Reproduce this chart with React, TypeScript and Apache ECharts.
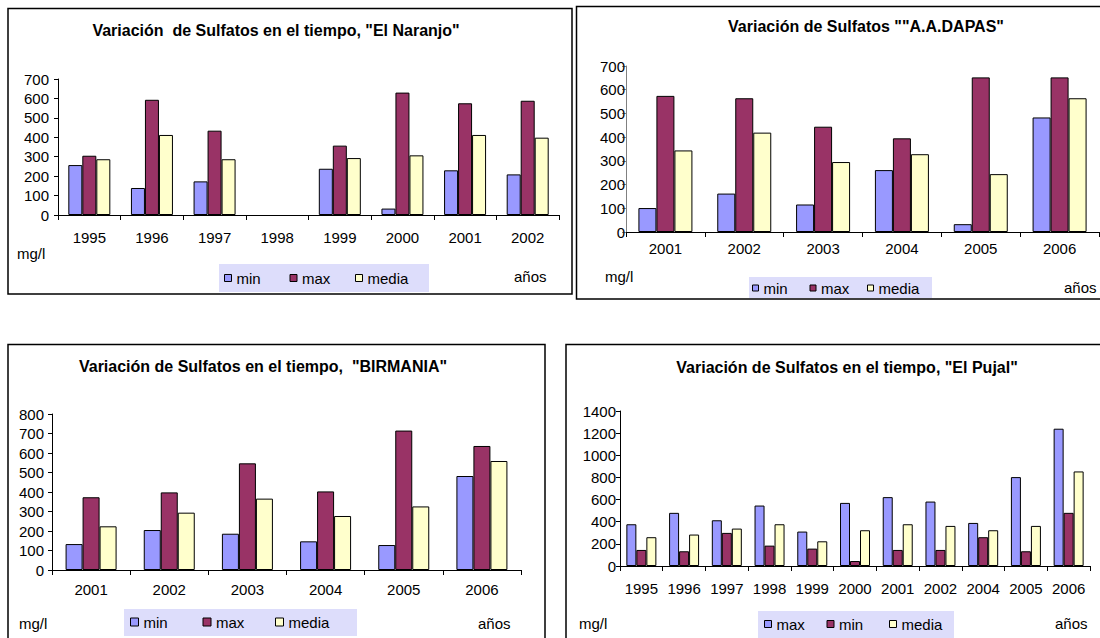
import React, { useEffect, useRef } from "react";
import * as echarts from "echarts";

// ---------- data ----------
const naranjoYears = ["1995", "1996", "1997", "1998", "1999", "2000", "2001", "2002"];
const naranjoMin = [257, 139, 173, null, 238, 33, 230, 209];
const naranjoMax = [305, 593, 434, null, 357, 630, 575, 588];
const naranjoMedia = [287, 412, 287, null, 293, 307, 412, 398];

const dapasYears = ["2001", "2002", "2003", "2004", "2005", "2006"];
const dapasMin = [101, 162, 116, 261, 33, 483];
const dapasMax = [574, 564, 444, 395, 652, 652];
const dapasMedia = [344, 419, 295, 328, 244, 564];

const birmaniaYears = ["2001", "2002", "2003", "2004", "2005", "2006"];
const birmaniaMin = [133, 205, 186, 147, 128, 482];
const birmaniaMax = [373, 398, 547, 403, 715, 636];
const birmaniaMedia = [224, 294, 366, 277, 326, 559];

const pujalYears = ["1995", "1996", "1997", "1998", "1999", "2000", "2001", "2002", "2004", "2005", "2006"];
const pujalMax = [377, 480, 413, 546, 311, 570, 622, 582, 389, 803, 1240];
const pujalMin = [145, 133, 299, 184, 157, 45, 145, 145, 260, 133, 480];
const pujalMedia = [260, 284, 338, 377, 223, 323, 377, 362, 323, 362, 854];

const titles = [
  'Variación  de Sulfatos en el tiempo, "El Naranjo"',
  'Variación de Sulfatos ""A.A.DAPAS"',
  'Variación de Sulfatos en el tiempo,  "BIRMANIA"',
  'Variación de Sulfatos en el tiempo, "El Pujal"',
];

const BLUE = "#9999FF";
const MAROON = "#993366";
const CREAM = "#FFFFCC";
const LEGEND_BG = "#DDDDFB";
const FONT = "'Liberation Sans', Arial, sans-serif";

type ChartDef = {
  cats: string[];
  series: { name: string; data: (number | null)[]; color: string }[];
  grid: { left: number; top: number; width: number; height: number };
  yMax: number;
  yInterval: number;
  barWidth: number;
  xMargin: number;
  yMargin: number;
  yAxisColor: string;
  title: { x: number; y: number };
  legend: { left: number; cy: number; iw: number; ih: number; tw: number; gap: number };
  legendBox: [number, number, number, number];
  border: [number, number, number, number];
  mgl: [number, number];
  anos: [number, number];
};

const charts: ChartDef[] = [
  {
    cats: naranjoYears,
    series: [
      { name: "min", data: naranjoMin, color: BLUE },
      { name: "max", data: naranjoMax, color: MAROON },
      { name: "media", data: naranjoMedia, color: CREAM },
    ],
    grid: { left: 58, top: 79, width: 501, height: 136 },
    yMax: 700,
    yInterval: 100,
    barWidth: 14,
    xMargin: 15,
    yMargin: 9,
    yAxisColor: "#000",
    title: { x: 276, y: 30 },
    legend: { left: 224, cy: 278, iw: 7, ih: 7, tw: 45, gap: 8 },
    legendBox: [219, 264, 210, 28],
    border: [8, 8.5, 564, 285.5],
    mgl: [17, 253],
    anos: [514, 276],
  },
  {
    cats: dapasYears,
    series: [
      { name: "min", data: dapasMin, color: BLUE },
      { name: "max", data: dapasMax, color: MAROON },
      { name: "media", data: dapasMedia, color: CREAM },
    ],
    grid: { left: 626, top: 66, width: 473, height: 166 },
    yMax: 700,
    yInterval: 100,
    barWidth: 18,
    xMargin: 9,
    yMargin: 1,
    yAxisColor: "#808080",
    title: { x: 866, y: 26 },
    legend: { left: 752, cy: 288, iw: 6, ih: 6, tw: 36, gap: 10 },
    legendBox: [749, 277, 183, 21],
    border: [576.5, 6.5, 540, 292.5],
    mgl: [605, 276],
    anos: [1064, 287],
  },
  {
    cats: birmaniaYears,
    series: [
      { name: "min", data: birmaniaMin, color: BLUE },
      { name: "max", data: birmaniaMax, color: MAROON },
      { name: "media", data: birmaniaMedia, color: CREAM },
    ],
    grid: { left: 52, top: 414, width: 469, height: 156 },
    yMax: 800,
    yInterval: 100,
    barWidth: 17,
    xMargin: 12,
    yMargin: 8,
    yAxisColor: "#000",
    title: { x: 263, y: 366 },
    legend: { left: 130, cy: 622, iw: 8, ih: 8, tw: 50, gap: 9 },
    legendBox: [124, 609, 233, 27],
    border: [8, 344.5, 537, 310],
    mgl: [19, 623],
    anos: [478, 623],
  },
  {
    cats: pujalYears,
    series: [
      { name: "max", data: pujalMax, color: BLUE },
      { name: "min", data: pujalMin, color: MAROON },
      { name: "media", data: pujalMedia, color: CREAM },
    ],
    grid: { left: 620, top: 411, width: 470, height: 155 },
    yMax: 1400,
    yInterval: 200,
    barWidth: 10,
    xMargin: 15,
    yMargin: 4,
    yAxisColor: "#000",
    title: { x: 847, y: 367 },
    legend: { left: 764, cy: 624, iw: 7, ih: 7, tw: 45, gap: 5 },
    legendBox: [758, 611, 196, 27],
    border: [566, 344.5, 550, 310],
    mgl: [579, 623],
    anos: [1055, 623],
  },
];

function buildOption() {
  const grid: any[] = [];
  const xAxis: any[] = [];
  const yAxis: any[] = [];
  const series: any[] = [];
  const legend: any[] = [];
  const title: any[] = [];
  const graphic: any[] = [];

  charts.forEach((c, i) => {
    grid.push({ ...c.grid, containLabel: false });
    xAxis.push({
      type: "category",
      gridIndex: i,
      data: c.cats,
      axisLine: { show: true, lineStyle: { color: "#000", width: 1 } },
      axisTick: { show: true, length: 5, lineStyle: { color: "#000" } },
      axisLabel: { interval: 0, margin: c.xMargin, fontSize: 15, color: "#000", fontFamily: FONT },
      splitLine: { show: false },
    });
    yAxis.push({
      type: "value",
      gridIndex: i,
      min: 0,
      max: c.yMax,
      interval: c.yInterval,
      axisLine: { show: true, lineStyle: { color: c.yAxisColor, width: 1 } },
      axisTick: { show: true, length: 4, lineStyle: { color: c.yAxisColor } },
      axisLabel: {
        margin: c.yMargin,
        fontSize: 15,
        color: "#000",
        fontFamily: FONT,
        formatter: (v: number) => String(v),
      },
      splitLine: { show: false },
    });
    c.series.forEach((s) => {
      series.push({
        type: "bar",
        name: s.name,
        xAxisIndex: i,
        yAxisIndex: i,
        data: s.data,
        barWidth: c.barWidth,
        barGap: "0%",
        itemStyle: { color: s.color, borderColor: "#000", borderWidth: 1 },
      });
    });
    legend.push({
      left: c.legend.left,
      top: c.legend.cy - 7.5,
      padding: 0,
      orient: "horizontal",
      selectedMode: false,
      itemWidth: c.legend.iw,
      itemHeight: c.legend.ih,
      itemGap: c.legend.gap,
      icon: "rect",
      textStyle: { fontSize: 15, color: "#000", fontFamily: FONT, width: c.legend.tw, lineHeight: 15 },
      data: c.series.map((s) => ({
        name: s.name,
        itemStyle: { color: s.color, borderColor: "#000", borderWidth: 1 },
      })),
    });
    title.push({
      text: titles[i],
      left: c.title.x,
      top: c.title.y,
      padding: 0,
      textAlign: "center",
      textVerticalAlign: "middle",
      textStyle: { fontSize: 16, fontWeight: "bold", color: "#000", fontFamily: FONT },
    });
    graphic.push({
      type: "rect",
      z: -10,
      shape: { x: c.legendBox[0], y: c.legendBox[1], width: c.legendBox[2], height: c.legendBox[3] },
      style: { fill: LEGEND_BG },
    });
    graphic.push({
      type: "rect",
      z: -5,
      shape: { x: c.border[0], y: c.border[1], width: c.border[2], height: c.border[3] },
      style: { fill: "none", stroke: "#000", lineWidth: 1.5 },
    });
    graphic.push({
      type: "text",
      x: c.mgl[0],
      y: c.mgl[1],
      style: { text: "mg/l", fontSize: 15, fill: "#000", fontFamily: FONT, textAlign: "left", textVerticalAlign: "middle" },
    });
    graphic.push({
      type: "text",
      x: c.anos[0],
      y: c.anos[1],
      style: { text: "años", fontSize: 15, fill: "#000", fontFamily: FONT, textAlign: "left", textVerticalAlign: "middle" },
    });
  });

  return {
    animation: false,
    backgroundColor: "#fff",
    title,
    grid,
    xAxis,
    yAxis,
    legend,
    series,
    graphic,
  };
}

export default function App() {
  const ref = useRef<HTMLDivElement>(null);
  useEffect(() => {
    if (!ref.current) return;
    const chart = echarts.init(ref.current, undefined, { renderer: "svg" });
    chart.setOption(buildOption() as any);
    return () => chart.dispose();
  }, []);
  return (
    <div
      ref={ref}
      style={{ position: "absolute", left: 0, top: 0, width: 1100, height: 638 }}
    />
  );
}
